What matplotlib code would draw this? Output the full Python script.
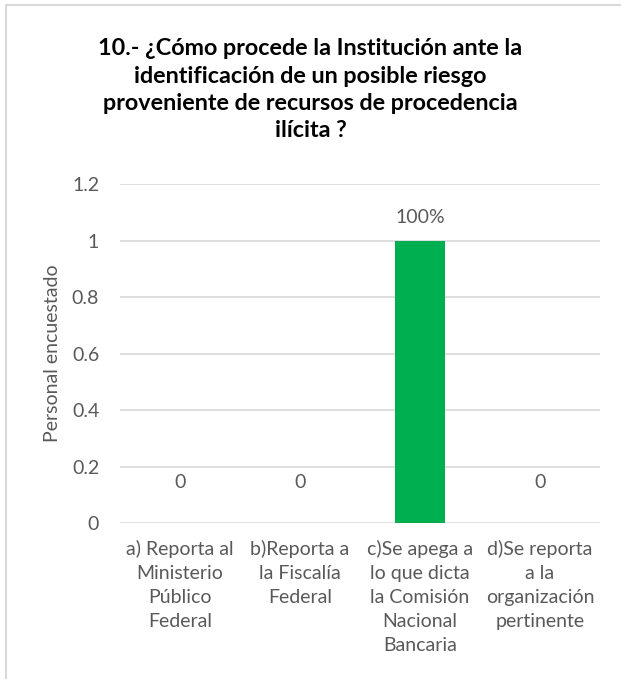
import matplotlib.pyplot as plt
from matplotlib.patches import Rectangle

plt.rcParams['font.family'] = ['Lato', 'DejaVu Sans']

# datos
categorias = ["a) Reporta al\nMinisterio\nPúblico\nFederal",
              "b)Reporta a\nla Fiscalía\nFederal",
              "c)Se apega a\nlo que dicta\nla Comisión\nNacional\nBancaria",
              "d)Se reporta\na la\norganización\npertinente"]
valores = [0, 0, 1, 0]
etiquetas = ["0", "0", "100%", "0"]
yticks = [0, 0.2, 0.4, 0.6, 0.8, 1, 1.2]
ytick_labels = ["0", "0.2", "0.4", "0.6", "0.8", "1", "1.2"]

gris = '#595959'
verde = '#00b050'

fig = plt.figure(figsize=(6.21, 6.79), dpi=100)
ax = fig.add_axes([0.1932, 0.2297, 0.773, 0.4993])

x = range(len(categorias))
ax.bar(x, valores, width=0.41, color=verde, zorder=3)

# etiquetas de datos
for i, (v, t) in enumerate(zip(valores, etiquetas)):
    dy = 29.5 if v == 0 else 16.5
    ax.annotate(t, (i, v), xytext=(0, dy), textcoords='offset points',
                ha='center', va='center', fontsize=14, color=gris)

ax.set_ylim(0, 1.2)
ax.set_xlim(-0.5, 3.5)
ax.set_yticks(yticks)
ax.set_yticklabels(ytick_labels)
ax.set_xticks(list(x))
ax.set_xticklabels(categorias, linespacing=1.5)
ax.tick_params(axis='both', length=0, colors=gris, labelsize=14)
ax.tick_params(axis='x', pad=12)
ax.tick_params(axis='y', pad=15)
ax.grid(axis='y', color='#d9d9d9', linewidth=1.2, zorder=0)
for s in ax.spines.values():
    s.set_visible(False)

fig.text(53 / 621, 0.5 * (0.2297 * 2 + 0.4993), "Personal encuestado", rotation=90,
         ha='center', va='center', fontsize=14, color=gris)

fig.text(0.5, 0.868, "10.- ¿Cómo procede la Institución ante la\nidentificación de un posible riesgo\nproveniente de recursos de procedencia\nilícita ?",
         ha='center', va='center', fontsize=16.8, fontweight='bold', color='black', linespacing=1.36)

# borde del gráfico
fig.patches.append(Rectangle((0.009, -0.05), 1.1, 1.043, transform=fig.transFigure,
                             fill=False, edgecolor='#d9d9d9', linewidth=1.5))

fig.savefig('out.png', dpi=100)
